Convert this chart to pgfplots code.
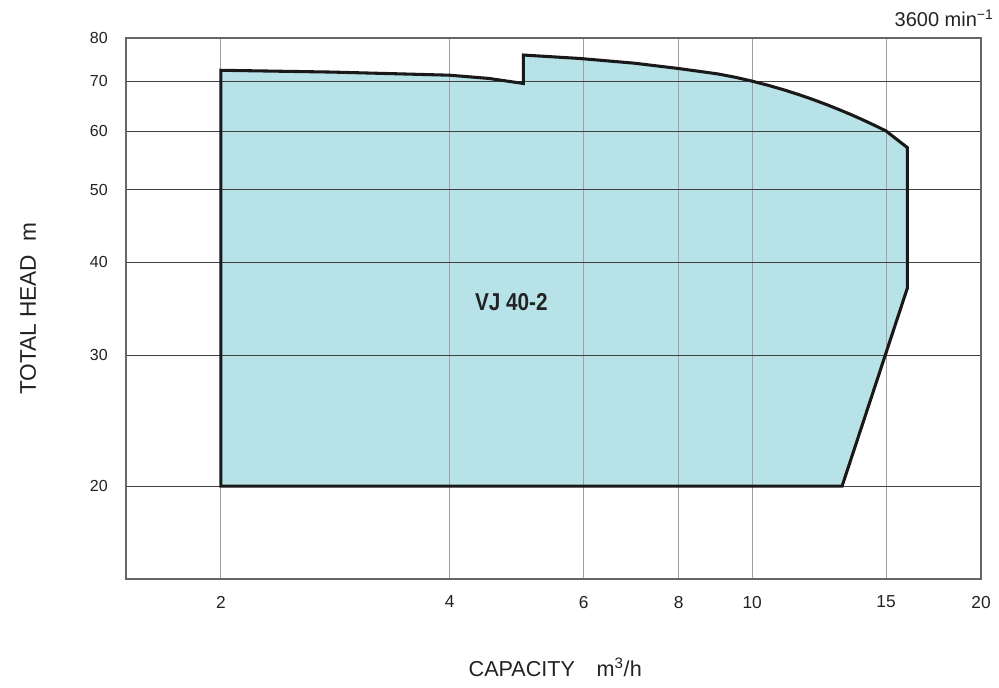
\documentclass[border=0pt]{standalone}
\usepackage{fontspec}
\setmainfont{Liberation Sans}
\newfontfamily\narrowbold[FakeStretch=0.85]{Liberation Sans Bold}
\usepackage{xcolor}
\usepackage{pgfplots}
\usepackage{pgfplotstable}
\pgfplotsset{compat=1.18}
\definecolor{fillc}{HTML}{B7E2E8}
\definecolor{txt}{HTML}{222222}
% boundary of the operating range (capacity m3/h, head m)
\pgfplotstableread{
q h
2 20
2 72.4
2.8 72.0
3.44 71.6
4 71.3
4.5 70.6
5 69.5
5 75.9
5.93 75.1
7 74.0
8 72.8
9 71.6
9.5 70.85
10 70.0
10.5 69.10
11 68.16
11.5 67.18
12 66.18
12.5 65.16
13 64.13
13.5 63.10
14 62.06
14.5 61.03
15 60.0
15.5 58.45
16 57.0
16 36.9
13.13 20
}\range
\begin{document}
\begin{tikzpicture}
\begin{axis}[
  name=ax,
  set layers,
  axis on top,
  scale only axis,
  width=641.25pt, height=405.75pt,
  xmode=log, ymode=log,
  xmin=1.5, xmax=20, ymin=15, ymax=80,
  xtick={2,4,6,8,10,15,20},
  xticklabels={2,4,6,8,10,15,20},
  ytick={20,30,40,50,60,70,80},
  yticklabels={20,30,40,50,60,70,80},
  major tick length=0pt,
  minor tick num=0,
  /pgf/number format/assume math mode=true,
  tick label style={text=txt, inner sep=0pt},
  xticklabel style={font=\fontsize{13}{15}\selectfont, anchor=north, yshift=-12.5pt},
  yticklabel style={font=\fontsize{12}{14}\selectfont, anchor=east, xshift=-13.5pt},
  grid=major,
  x grid style={gray!75, line width=0.8pt},
  y grid style={black!75, line width=0.7pt},
  axis line style={black!60, line width=0.9pt},
  clip=false,
]
  \addplot[fill=fillc, draw=none] table[x=q, y=h] {\range} -- cycle;
  \addplot[on layer=axis foreground, draw=black!90, line width=2.3pt, line join=miter]
    table[x=q, y=h] {\range} -- cycle;
  \node[font=\narrowbold\fontsize{18.3}{20}\selectfont, text=txt] at (axis cs:4.82,35.3) {VJ 40-2};
  \node[font=\fontsize{16.2}{18}\selectfont, text=txt] at (axis description cs:0.502,-0.163) {CAPACITY\hspace{1em}m\textsuperscript{3}/h};
  \node[font=\fontsize{17}{19}\selectfont, text=txt, rotate=90] at (axis description cs:-0.1146,0.5) {TOTAL HEAD\hspace{0.6em}m};
  \node[font=\fontsize{15}{17}\selectfont, text=txt, anchor=east, inner sep=0pt] at (axis description cs:1.015,1.037) {3600 min\textsuperscript{−1}};
\end{axis}
\pgfresetboundingbox
\path ([shift={(-94.5pt,-81.75pt)}]ax.south west) rectangle ([shift={(13.5pt,28.5pt)}]ax.north east);
\end{tikzpicture}
\end{document}
